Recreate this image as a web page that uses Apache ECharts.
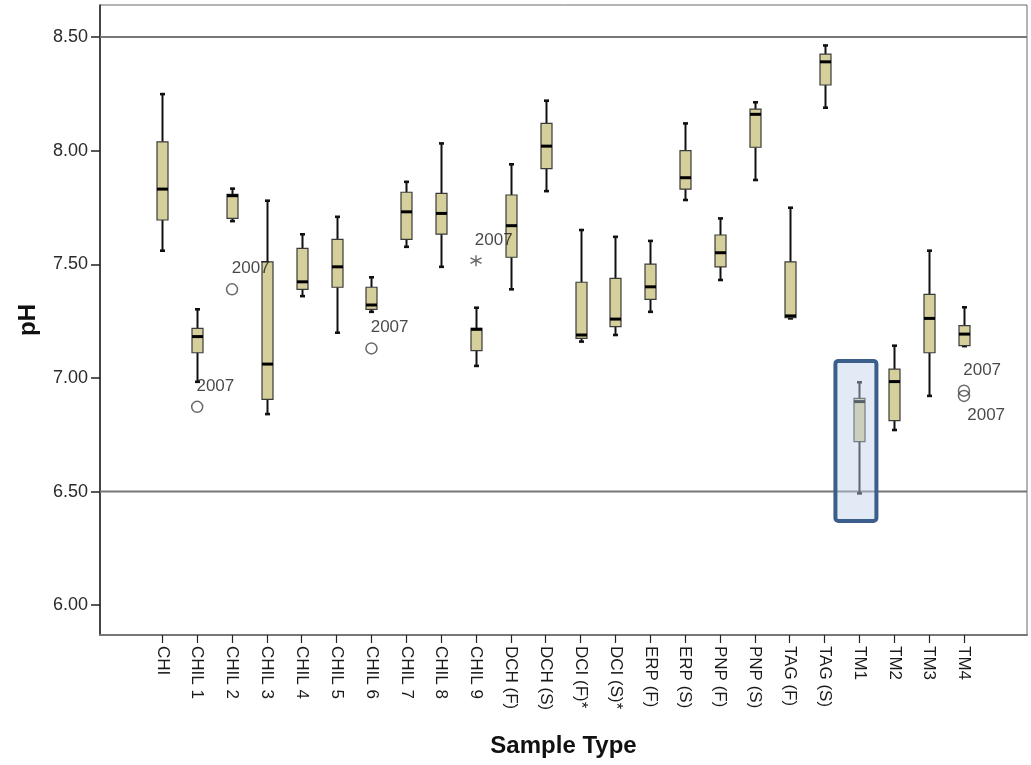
<!DOCTYPE html>
<html>
<head>
<meta charset="utf-8">
<script src="https://cdn.jsdelivr.net/npm/echarts@6/dist/echarts.min.js"></script>
<style>
  html, body { margin: 0; padding: 0; background: #ffffff; }
  #chart { width: 1031px; height: 765px; }
</style>
</head>
<body>
<div id="chart"></div>
<script>
// pH by sample type: five-number summaries per site
const categories = ['CHI', 'CHIL 1', 'CHIL 2', 'CHIL 3', 'CHIL 4', 'CHIL 5', 'CHIL 6', 'CHIL 7',
  'CHIL 8', 'CHIL 9', 'DCH (F)', 'DCH (S)', 'DCI (F)*', 'DCI (S)*', 'ERP (F)', 'ERP (S)',
  'PNP (F)', 'PNP (S)', 'TAG (F)', 'TAG (S)', 'TM1', 'TM2', 'TM3', 'TM4'];
const whiskerLow  = [7.560, 6.983, 7.690, 6.841, 7.360, 7.199, 7.291, 7.577, 7.489, 7.053, 7.390, 7.822,
  7.160, 7.189, 7.291, 7.783, 7.431, 7.871, 7.262, 8.189, 6.492, 6.771, 6.921, 7.140];
const quartile1   = [7.695, 7.111, 7.702, 6.906, 7.390, 7.399, 7.302, 7.610, 7.633, 7.120, 7.531, 7.921,
  7.174, 7.226, 7.346, 7.831, 7.489, 8.015, 7.265, 8.289, 6.720, 6.812, 7.111, 7.142];
const medians     = [7.831, 7.182, 7.802, 7.061, 7.423, 7.489, 7.321, 7.731, 7.724, 7.214, 7.670, 8.020,
  7.189, 7.259, 7.401, 7.881, 7.551, 8.160, 7.273, 8.391, 6.896, 6.984, 7.262, 7.193];
const quartile3   = [8.039, 7.218, 7.808, 7.511, 7.570, 7.610, 7.399, 7.817, 7.812, 7.218, 7.805, 8.120,
  7.421, 7.438, 7.501, 8.000, 7.629, 8.183, 7.511, 8.425, 6.910, 7.039, 7.368, 7.230];
const whiskerHigh = [8.249, 7.302, 7.833, 7.780, 7.632, 7.709, 7.443, 7.863, 8.032, 7.309, 7.940, 8.220,
  7.651, 7.621, 7.603, 8.120, 7.702, 8.213, 7.749, 8.463, 6.981, 7.142, 7.560, 7.311];

// Outliers (circles) and extremes (asterisks), each tagged with its year
const outlierCats   = ['CHIL 1', 'CHIL 2', 'CHIL 6', 'TM4', 'TM4'];
const outlierValues = [6.873, 7.390, 7.130, 6.944, 6.921];
const outlierLabels = ['2007', '2007', '2007', '2007', '2007'];
const extremeCats   = ['CHIL 9'];
const extremeValues = [7.516];
const extremeLabels = ['2007'];

// Axis ticks, reference limits and the highlighted site
const yTicks = [6.0, 6.5, 7.0, 7.5, 8.0, 8.5];
const yRange = [5.869, 8.641];
const refLines = [8.5, 6.5];
const highlightCat = 'TM1';
const highlightRange = [6.371, 7.075];

// label offsets for the year tags: [dx, dy] from the marker's box corner
const outlierLabelPos = [[5.5, -14.5], [6, -14.5], [5.5, -14.5], [5.5, -14.5], [9.5, 25.5]];
const extremeLabelPos = [[5, -14.5]];

const FONT = '"Liberation Sans", Arial, sans-serif';
const boxData = categories.map((c, i) =>
  [i, whiskerLow[i], quartile1[i], medians[i], quartile3[i], whiskerHigh[i]]);

function renderBox(params, api) {
  const i = api.value(0);
  const pLow = api.coord([i, api.value(1)]);
  const pQ1 = api.coord([i, api.value(2)]);
  const pMed = api.coord([i, api.value(3)]);
  const pQ3 = api.coord([i, api.value(4)]);
  const pHigh = api.coord([i, api.value(5)]);
  const cx = Math.round(pMed[0]) + 0.5;
  const hw = 5.5, cw = 2.5;
  const whisker = { stroke: '#111111', lineWidth: 2 };
  const cap = { stroke: '#111111', lineWidth: 2.6 };
  return {
    type: 'group',
    children: [
      { type: 'line', shape: { x1: cx, y1: pHigh[1], x2: cx, y2: pQ3[1] }, style: whisker },
      { type: 'line', shape: { x1: cx, y1: pQ1[1], x2: cx, y2: pLow[1] }, style: whisker },
      { type: 'line', shape: { x1: cx - cw, y1: pHigh[1], x2: cx + cw, y2: pHigh[1] }, style: cap },
      { type: 'line', shape: { x1: cx - cw, y1: pLow[1], x2: cx + cw, y2: pLow[1] }, style: cap },
      { type: 'rect', shape: { x: cx - hw, y: pQ3[1], width: hw * 2, height: pQ1[1] - pQ3[1] },
        style: { fill: '#d5d09b', stroke: '#3a3a3a', lineWidth: 1.2 } },
      { type: 'line', shape: { x1: cx - hw, y1: pMed[1], x2: cx + hw, y2: pMed[1] }, style: { stroke: '#000000', lineWidth: 3 } }
    ]
  };
}

// frame drawn around the highlighted site, slightly left of the box centre
function renderHighlight(params, api) {
  const i = api.value(0);
  const pLo = api.coord([i, api.value(1)]);
  const pHi = api.coord([i, api.value(2)]);
  const w = 41, shift = -3.5;
  return {
    type: 'rect',
    shape: { x: pLo[0] - w / 2 + shift, y: pHi[1], width: w, height: pLo[1] - pHi[1], r: 3 },
    style: { fill: 'rgba(190,208,232,0.45)', stroke: '#3b5e8c', lineWidth: 4 }
  };
}

const yearLabel = (text, pos) => ({
  show: true, formatter: text, position: pos, align: 'left', verticalAlign: 'middle',
  fontFamily: FONT, fontSize: 17, color: '#1a1a1a'
});

const option = {
  animation: false,
  backgroundColor: '#ffffff',
  grid: [
    { left: 100, right: 4, top: 5, bottom: 130, show: true, borderColor: '#6a6a6a', borderWidth: 1,
      containLabel: false, outerBoundsMode: 'none' },
    { left: 144.9, right: 49.6, top: 5, bottom: 130, containLabel: false, outerBoundsMode: 'none' }
  ],
  xAxis: [
    {
      gridIndex: 0, type: 'value', min: 0, max: 1,
      axisLine: { show: true, onZero: false, lineStyle: { color: '#777777', width: 2 } },
      axisTick: { show: false }, axisLabel: { show: false }, splitLine: { show: false },
      name: 'Sample Type', nameLocation: 'middle', nameGap: 99,
      nameTextStyle: { fontFamily: FONT, fontSize: 24, fontWeight: 'bold', color: '#111111' }
    },
    {
      gridIndex: 1, type: 'category', data: categories,
      axisLine: { show: false },
      axisTick: { show: true, alignWithLabel: true, length: 8, lineStyle: { color: '#222222', width: 1.2 } },
      axisLabel: { rotate: -90, margin: 11, fontFamily: FONT, fontSize: 17, color: '#1a1a1a', interval: 0 },
      splitLine: { show: false }
    }
  ],
  yAxis: [
    {
      gridIndex: 0, type: 'value', min: yRange[0], max: yRange[1],
      axisLine: { show: true, onZero: false, lineStyle: { color: '#222222', width: 1.5 } },
      axisTick: { show: true, length: 9, customValues: yTicks, lineStyle: { color: '#222222', width: 1.5 } },
      axisLabel: { customValues: yTicks, margin: 12, fontFamily: FONT, fontSize: 18, color: '#2a2a2a',
        formatter: v => v.toFixed(2) },
      splitLine: { show: false },
      name: 'pH', nameLocation: 'middle', nameGap: 60, nameRotate: 90,
      nameTextStyle: { fontFamily: FONT, fontSize: 24, fontWeight: 'bold', color: '#111111' }
    },
    {
      gridIndex: 1, type: 'value', min: yRange[0], max: yRange[1], show: false
    }
  ],
  series: [
    ...refLines.map(v => ({
      type: 'line', xAxisIndex: 0, yAxisIndex: 0, data: [[0, v], [1, v]],
      symbol: 'none', silent: true, z: 1,
      lineStyle: { color: '#777777', width: 2 }
    })),
    {
      type: 'custom', xAxisIndex: 1, yAxisIndex: 1, z: 3,
      renderItem: renderBox,
      encode: { x: 0, y: [1, 2, 3, 4, 5] },
      data: boxData
    },
    {
      type: 'scatter', xAxisIndex: 1, yAxisIndex: 1, z: 4,
      symbol: 'circle', symbolSize: 11,
      itemStyle: { color: 'rgba(255,255,255,0)', borderColor: '#444444', borderWidth: 1.5 },
      data: outlierCats.map((c, i) => ({
        value: [c, outlierValues[i]],
        label: yearLabel(outlierLabels[i], outlierLabelPos[i])
      }))
    },
    {
      type: 'scatter', xAxisIndex: 1, yAxisIndex: 1, z: 4,
      symbol: 'path://M5,0L5,10M0.67,2.5L9.33,7.5M0.67,7.5L9.33,2.5', symbolSize: 11,
      itemStyle: { color: 'rgba(255,255,255,0)', borderColor: '#444444', borderWidth: 1.4 },
      data: extremeCats.map((c, i) => ({
        value: [c, extremeValues[i]],
        label: yearLabel(extremeLabels[i], extremeLabelPos[i])
      }))
    },
    {
      type: 'custom', xAxisIndex: 1, yAxisIndex: 1, z: 6,
      renderItem: renderHighlight,
      encode: { x: 0, y: [1, 2] },
      data: [[categories.indexOf(highlightCat), highlightRange[0], highlightRange[1]]]
    }
  ]
};

const chart = echarts.init(document.getElementById('chart'), null, { renderer: 'canvas' });
chart.setOption(option);
</script>
</body>
</html>
